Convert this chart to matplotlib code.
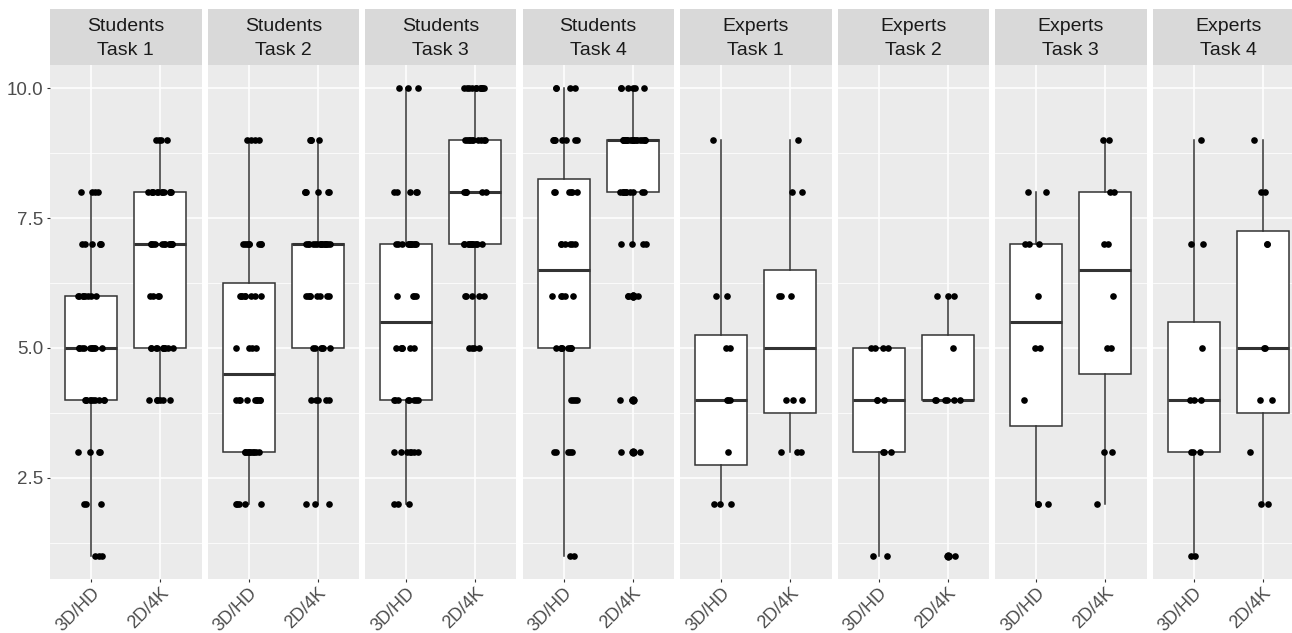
import numpy as np
import matplotlib
matplotlib.use("Agg")
import matplotlib.pyplot as plt

plt.rcParams['font.family'] = ['Liberation Sans', 'DejaVu Sans']

# score levels 1..10, counts per level for each group / task / condition
scores = [1, 2, 3, 4, 5, 6, 7, 8, 9, 10]
conditions = ["3D/HD", "2D/4K"]
groups = ["Students", "Experts"]
tasks = ["Task 1", "Task 2", "Task 3", "Task 4"]

students_3d = [
    [3, 3, 4, 10, 10, 8, 6, 4, 0, 0],
    [0, 5, 10, 9, 4, 8, 8, 0, 4, 0],
    [0, 3, 7, 8, 6, 4, 12, 5, 0, 3],
    [2, 0, 5, 4, 8, 5, 6, 6, 8, 4],
]
students_2d = [
    [0, 0, 0, 6, 10, 4, 12, 12, 4, 0],
    [0, 3, 0, 5, 6, 8, 16, 6, 4, 0],
    [0, 0, 0, 0, 4, 5, 12, 6, 10, 11],
    [0, 0, 2, 2, 0, 3, 4, 10, 21, 6],
]
experts_3d = [
    [0, 3, 1, 3, 2, 2, 0, 0, 1, 0],
    [2, 0, 3, 3, 4, 0, 0, 0, 0, 0],
    [0, 3, 0, 1, 2, 1, 3, 2, 0, 0],
    [2, 0, 3, 3, 1, 0, 2, 0, 1, 0],
]
experts_2d = [
    [0, 0, 3, 3, 0, 3, 0, 2, 1, 0],
    [2, 0, 0, 6, 1, 3, 0, 0, 0, 0],
    [0, 1, 2, 0, 2, 1, 2, 2, 2, 0],
    [0, 2, 1, 2, 2, 0, 2, 2, 1, 0],
]

counts = {
    "Students": (students_3d, students_2d),
    "Experts": (experts_3d, experts_2d),
}

W, H = 1292, 633
fig = plt.figure(figsize=(W / 100, H / 100), dpi=100)
rng = np.random.default_rng(7)

panel_w = 151.5
pitch = 157.5
top_px, bottom_px = 65, 579
strip_top = 9

i = 0
for g in groups:
    c3d, c2d = counts[g]
    for t in range(4):
        left = 50 + pitch * i
        ax = fig.add_axes([left / W, (H - bottom_px) / H, panel_w / W, (bottom_px - top_px) / H])
        ax.set_facecolor('#EBEBEB')
        for s in ax.spines.values():
            s.set_visible(False)

        data = [np.repeat(scores, c3d[t]), np.repeat(scores, c2d[t])]
        ax.boxplot(data, positions=[1, 2], widths=0.75, patch_artist=True,
                   showcaps=False, whis=1.5,
                   boxprops=dict(facecolor='white', edgecolor='#333333', linewidth=1.1),
                   medianprops=dict(color='#333333', linewidth=2.2),
                   whiskerprops=dict(color='#333333', linewidth=1.1),
                   flierprops=dict(marker='o', markerfacecolor='black', markeredgecolor='black',
                                   markersize=4.8, linestyle='none'),
                   zorder=2)
        for k, d in enumerate(data):
            xj = (k + 1) + rng.uniform(-0.19, 0.19, len(d))
            ax.scatter(xj, d, s=23, color='black', linewidths=0, zorder=3)

        ax.set_xlim(0.4, 2.6)
        ax.set_ylim(0.55, 10.45)
        ax.set_yticks([2.5, 5.0, 7.5, 10.0])
        ax.set_yticks([1.25, 3.75, 6.25, 8.75], minor=True)
        ax.set_xticks([1, 2])
        ax.set_xticklabels(conditions, rotation=45, ha='right', va='top',
                           rotation_mode='anchor', fontsize=13, color='#4D4D4D')
        ax.set_axisbelow(True)
        ax.grid(which='major', color='white', linewidth=1.1)
        ax.grid(which='minor', axis='y', color='white', linewidth=0.55)
        ax.tick_params(axis='both', which='major', length=2.5, width=0.8, color='#333333', pad=1.5)
        ax.tick_params(axis='y', which='minor', length=0)
        if i == 0:
            ax.set_yticklabels(["2.5", "5.0", "7.5", "10.0"], fontsize=13.5, color='#4D4D4D')
            ax.tick_params(axis='y', pad=2)
        else:
            ax.tick_params(axis='y', which='major', length=0, labelleft=False)

        # facet strip
        sax = fig.add_axes([left / W, (H - top_px) / H, panel_w / W, (top_px - strip_top) / H])
        sax.set_facecolor('#D9D9D9')
        sax.set_xticks([])
        sax.set_yticks([])
        for s in sax.spines.values():
            s.set_visible(False)
        sax.text(0.5, 0.47, g + "\n" + tasks[t], ha='center', va='center',
                 fontsize=14, color='#1A1A1A', linespacing=1.5, transform=sax.transAxes)
        i += 1

fig.savefig('out.png', dpi=100)
